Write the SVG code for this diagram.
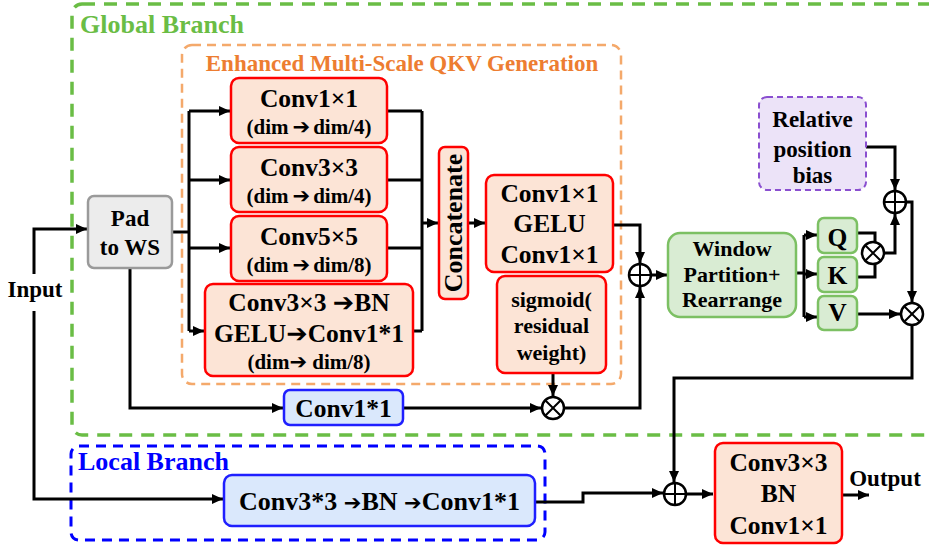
<svg xmlns="http://www.w3.org/2000/svg" width="929" height="547" viewBox="0 0 929 547" font-family="'Liberation Serif', 'Times New Roman', 'DejaVu Serif', serif">
<defs>
<marker id="ah" markerUnits="userSpaceOnUse" markerWidth="12" markerHeight="10" refX="11" refY="5" orient="auto">
<path d="M0,0 L11,5 L0,10 Z" fill="#000"/>
</marker>
<style>
text{font-family:'Liberation Serif','Times New Roman','DejaVu Serif',serif;font-weight:bold;fill:#000;text-anchor:middle}
.red{fill:#fce4d6;stroke:#ff0000;stroke-width:2.5}
.blue{fill:#dae8fc;stroke:#1f1fff;stroke-width:2.5}
.grn{fill:#d9ecd3;stroke:#7cc063;stroke-width:2.5}
.grey{fill:#ececec;stroke:#9a9a9a;stroke-width:2.5}
.ln{fill:none;stroke:#000;stroke-width:3}
.arr{marker-end:url(#ah)}
.op{fill:#fff;stroke:#000;stroke-width:2.5}
.t25{font-size:25.5px}
.t21{font-size:21px}
.t22{font-size:22px}
.t23{font-size:23px}
.ar{font-family:'DejaVu Sans',sans-serif;font-size:1em}
</style>
</defs>

<g id="frames">
<rect x="72" y="4" width="880" height="431" rx="10" fill="none" stroke="#6abd45" stroke-width="3.5" stroke-dasharray="13 9"/>
<text x="80" y="33" style="font-size:26px;fill:#6abd45;text-anchor:start">Global Branch</text>
<rect x="182" y="45" width="439" height="339" rx="10" fill="none" stroke="#f4a96b" stroke-width="2.5" stroke-dasharray="9 6"/>
<text x="402" y="71" style="font-size:23px;fill:#ed7d31">Enhanced Multi-Scale QKV Generation</text>
<rect x="71" y="446" width="474" height="94" rx="8" fill="none" stroke="#0000ff" stroke-width="3" stroke-dasharray="10 7"/>
<text x="78" y="470" style="font-size:26px;fill:#0000ff;text-anchor:start">Local Branch</text>
</g>

<g id="connectors">
<path class="ln arr" d="M34,274 V229 H87"/>
<path class="ln arr" d="M34,311 V499 H223"/>
<path class="ln" d="M172,232 H189"/>
<path class="ln" d="M189,111 V331"/>
<path class="ln arr" d="M189,111 H230"/>
<path class="ln arr" d="M189,180 H230"/>
<path class="ln arr" d="M189,248 H230"/>
<path class="ln arr" d="M189,331 H204"/>
<path class="ln" d="M387,111 H422 M387,180 H422 M387,248 H422 M413,331 H422 M422,111 V331"/>
<path class="ln arr" d="M422,223 H438"/>
<path class="ln arr" d="M468,223 H485"/>
<path class="ln arr" d="M613,225 H640 V263"/>
<path class="ln arr" d="M130,268 V408 H283"/>
<path class="ln arr" d="M403,408 H541"/>
<path class="ln arr" d="M553,373 V396"/>
<path class="ln arr" d="M564,408 H640 V287"/>
<path class="ln arr" d="M651,275 H667"/>
<path class="ln" d="M796,273 H804 M804,235 V317"/>
<path class="ln arr" d="M804,235 H817"/>
<path class="ln arr" d="M804,274 H817"/>
<path class="ln arr" d="M804,317 H817"/>
<path class="ln" d="M857,233 H875 V242"/>
<path class="ln" d="M857,277 H875 V264"/>
<path class="ln arr" d="M884,253 H895 V214"/>
<path class="ln arr" d="M866,147 H895 V190"/>
<path class="ln arr" d="M906,202 H912 V302"/>
<path class="ln arr" d="M857,314 H900"/>
<path class="ln arr" d="M912,325 V378 H674 V482"/>
<path class="ln arr" d="M535,502 H583 V493 H663"/>
<path class="ln arr" d="M686,494 H713"/>
<path class="ln arr" d="M842,495 H869"/>
</g>

<g id="input"><text class="t23" x="35" y="297">Input</text></g>

<g id="pad">
<rect class="grey" x="88" y="196" width="84" height="72" rx="6"/>
<text class="t23" x="130" y="226">Pad</text>
<text class="t23" x="130" y="255">to WS</text>
</g>

<g id="conv1x1">
<rect class="red" x="231" y="78" width="156" height="65" rx="8"/>
<text class="t25" x="309" y="107">Conv1×1</text>
<text class="t21" x="309" y="134">(dim<tspan class="ar" dx="4">➔</tspan><tspan dx="3">dim/4)</tspan></text>
</g>
<g id="conv3x3">
<rect class="red" x="231" y="147" width="156" height="65" rx="8"/>
<text class="t25" x="309" y="176">Conv3×3</text>
<text class="t21" x="309" y="203">(dim<tspan class="ar" dx="4">➔</tspan><tspan dx="3">dim/4)</tspan></text>
</g>
<g id="conv5x5">
<rect class="red" x="231" y="216" width="156" height="65" rx="8"/>
<text class="t25" x="309" y="245">Conv5×5</text>
<text class="t21" x="309" y="272">(dim<tspan class="ar" dx="4">➔</tspan><tspan dx="3">dim/8)</tspan></text>
</g>
<g id="convseq">
<rect class="red" x="205" y="284" width="208" height="92" rx="8"/>
<text class="t25" x="309" y="311">Conv3×3 <tspan class="ar">➔</tspan>BN</text>
<text class="t25" x="309" y="342">GELU<tspan class="ar">➔</tspan>Conv1*1</text>
<text class="t21" x="309" y="369">(dim<tspan class="ar">➔</tspan> dim/8)</text>
</g>

<g id="concat">
<rect class="red" x="439" y="147" width="29" height="152" rx="6"/>
<text transform="translate(462,223) rotate(-90)" style="font-size:26px">Concatenate</text>
</g>

<g id="mlp">
<rect class="red" x="486" y="175" width="127" height="97" rx="8"/>
<text class="t25" x="549.5" y="202">Conv1×1</text>
<text class="t25" x="549.5" y="232">GELU</text>
<text class="t25" x="549.5" y="263">Conv1×1</text>
</g>

<g id="sigmoid">
<rect class="red" x="497" y="276" width="109" height="97" rx="8"/>
<text class="t22" x="551.5" y="307">sigmoid(</text>
<text class="t22" x="551.5" y="333">residual</text>
<text class="t22" x="551.5" y="360">weight)</text>
</g>

<g id="conv1x1b">
<rect class="blue" x="284" y="390" width="119" height="35" rx="6"/>
<text class="t25" x="343.5" y="417">Conv1*1</text>
</g>

<g id="mul1">
<circle class="op" cx="553" cy="408" r="11"/>
<path d="M545.2,400.2 L560.8,415.8 M560.8,400.2 L545.2,415.8" stroke="#000" stroke-width="2"/>
</g>
<g id="add1">
<circle class="op" cx="640" cy="275" r="11"/>
<path d="M629,275 H651 M640,264 V286" stroke="#000" stroke-width="2"/>
</g>

<g id="window">
<rect class="grn" x="668" y="233" width="128" height="84" rx="12"/>
<text class="t22" x="732" y="256">Window</text>
<text class="t22" x="732" y="282">Partition+</text>
<text class="t22" x="732" y="307">Rearrange</text>
</g>

<g id="q">
<rect class="grn" x="818" y="218" width="39" height="35" rx="6"/>
<text class="t25" x="837.5" y="246">Q</text>
</g>
<g id="k">
<rect class="grn" x="818" y="257" width="39" height="35" rx="6"/>
<text class="t25" x="837.5" y="284">K</text>
</g>
<g id="v">
<rect class="grn" x="818" y="296" width="39" height="34" rx="6"/>
<text class="t25" x="837.5" y="321">V</text>
</g>

<g id="bias">
<rect x="759" y="97" width="107" height="93" rx="8" fill="#ece3f8" stroke="#8a4fd0" stroke-width="2" stroke-dasharray="6 4"/>
<text class="t23" x="812.5" y="127">Relative</text>
<text class="t23" x="812.5" y="157">position</text>
<text class="t23" x="812.5" y="183">bias</text>
</g>

<g id="mulqk">
<circle class="op" cx="873" cy="253" r="11"/>
<path d="M865.2,245.2 L880.8,260.8 M880.8,245.2 L865.2,260.8" stroke="#000" stroke-width="2"/>
</g>
<g id="addbias">
<circle class="op" cx="895" cy="202" r="11"/>
<path d="M884,202 H906 M895,191 V213" stroke="#000" stroke-width="2"/>
</g>
<g id="mulv">
<circle class="op" cx="912" cy="314" r="11"/>
<path d="M904.2,306.2 L919.8,321.8 M919.8,306.2 L904.2,321.8" stroke="#000" stroke-width="2"/>
</g>

<g id="local">
<rect class="blue" x="224" y="475" width="311" height="51" rx="8"/>
<text x="379.5" y="510" style="font-size:26px">Conv3*3 <tspan class="ar" style="font-size:21px">➔</tspan>BN <tspan class="ar" style="font-size:21px">➔</tspan>Conv1*1</text>
</g>

<g id="add2">
<circle class="op" cx="675" cy="494" r="11"/>
<path d="M664,494 H686 M675,483 V505" stroke="#000" stroke-width="2"/>
</g>

<g id="outconv">
<rect class="red" x="715" y="443" width="127" height="100" rx="8"/>
<text class="t25" x="778.5" y="471">Conv3×3</text>
<text class="t25" x="778.5" y="502">BN</text>
<text class="t25" x="778.5" y="534">Conv1×1</text>
</g>

<g id="output"><text class="t23" x="885" y="486">Output</text></g>
</svg>
